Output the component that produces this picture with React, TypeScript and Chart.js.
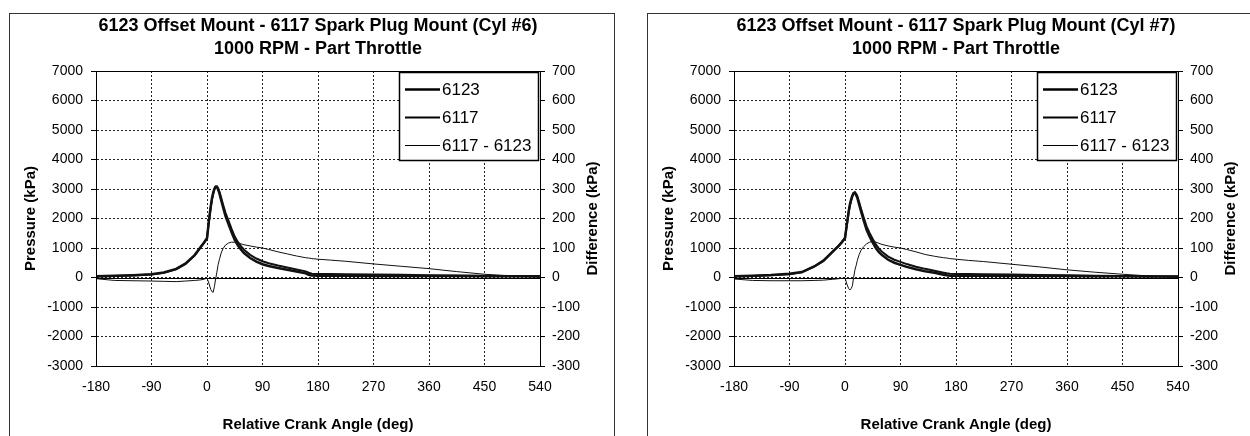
import React, { useEffect, useRef } from "react";
import { Chart, registerables } from "chart.js";

Chart.register(...registerables);

// ---- data ----
const ANGLE_DEG = [-180, -150, -120, -90, -70, -50, -35, -20, -10, -5, 0, 3, 6, 8, 10, 12, 14, 16, 18, 20, 23, 26, 30, 35, 40, 45, 50, 55, 60, 70, 80, 90, 100, 115, 130, 145, 160, 165, 170, 180, 200, 225, 270, 315, 360, 405, 450, 495, 540];

const CYL6_6123 = [40, 60, 80, 110, 170, 290, 470, 760, 1040, 1180, 1330, 1900, 2400, 2680, 2870, 3010, 3080, 3070, 2980, 2860, 2620, 2380, 2080, 1800, 1520, 1270, 1090, 950, 830, 660, 540, 450, 390, 320, 260, 200, 140, 95, 65, 60, 60, 58, 55, 52, 50, 48, 45, 42, 40];
const CYL6_6117 = [36, 50, 69, 98, 157, 276, 458, 750, 1032, 1174, 1328, 1881, 2360, 2632, 2820, 2979, 3075, 3088, 3023, 2920, 2703, 2478, 2190, 1917, 1640, 1389, 1207, 1064, 941, 767, 643, 550, 485, 407, 340, 273, 207, 161, 129, 122, 119, 113, 101, 90, 80, 68, 56, 47, 41];
const CYL6_DIFF = [-4, -10, -11, -12, -13, -14, -12, -10, -8, -6, -2, -19, -40, -48, -50, -31, -5, 18, 43, 60, 83, 98, 110, 117, 120, 119, 117, 114, 111, 107, 103, 100, 95, 87, 80, 73, 67, 66, 64, 62, 59, 55, 46, 38, 30, 20, 11, 5, 1];

const CYL7_6123 = [40, 60, 85, 125, 185, 375, 570, 880, 1080, 1200, 1340, 1800, 2250, 2480, 2650, 2780, 2860, 2870, 2800, 2700, 2470, 2240, 1950, 1620, 1380, 1180, 1000, 860, 760, 600, 500, 430, 360, 280, 215, 160, 95, 75, 62, 57, 57, 56, 55, 50, 48, 45, 40, 35, 30];
const CYL7_6117 = [35, 50, 74, 114, 174, 365, 561, 874, 1076, 1197, 1339, 1778, 2212, 2438, 2612, 2752, 2860, 2895, 2840, 2758, 2548, 2332, 2054, 1734, 1500, 1302, 1120, 976, 872, 707, 603, 530, 455, 367, 293, 232, 162, 141, 126, 119, 115, 110, 100, 86, 74, 63, 51, 40, 30];
const CYL7_DIFF = [-5, -10, -11, -11, -11, -10, -9, -6, -4, -3, -1, -22, -38, -42, -38, -28, 0, 25, 40, 58, 78, 92, 104, 114, 120, 122, 120, 116, 112, 107, 103, 100, 95, 87, 78, 72, 67, 66, 64, 62, 58, 54, 45, 36, 26, 18, 11, 5, 0];

const X_TICKS = [-180, -90, 0, 90, 180, 270, 360, 450, 540];
const P_TICKS = [-3000, -2000, -1000, 0, 1000, 2000, 3000, 4000, 5000, 6000, 7000];
const D_TICKS = [-300, -200, -100, 0, 100, 200, 300, 400, 500, 600, 700];

const SERIES_LABELS = ["6123", "6117", "6117 - 6123"];
const TITLE_CYL6 = ["6123 Offset Mount - 6117 Spark Plug Mount (Cyl #6)", "1000 RPM - Part Throttle"];
const TITLE_CYL7 = ["6123 Offset Mount - 6117 Spark Plug Mount (Cyl #7)", "1000 RPM - Part Throttle"];
const X_TITLE = "Relative Crank Angle (deg)";
const Y_TITLE = "Pressure (kPa)";
const Y1_TITLE = "Difference (kPa)";

const FONT = "'Liberation Sans', Arial, Helvetica, sans-serif";
const CANVAS_W = 604;
const CANVAS_H = 422;

function toXY(xs: number[], ys: number[]) {
  return xs.map((x, i) => ({ x, y: ys[i] }));
}

const decorPlugin = {
  id: "decor",
  beforeDatasetsDraw(chart: any) {
    const { ctx, chartArea: a, scales } = chart;
    const y0 = Math.round(scales.y.getPixelForValue(0)) + 0.5;
    ctx.save();
    ctx.strokeStyle = "#000";
    ctx.lineWidth = 1;
    ctx.setLineDash([]);
    ctx.beginPath();
    ctx.moveTo(a.left, y0);
    ctx.lineTo(a.right, y0);
    ctx.stroke();
    ctx.restore();
  },
  afterDraw(chart: any) {
    const { ctx, chartArea: a } = chart;
    ctx.save();
    // plot frame
    const l = Math.round(a.left) + 0.5;
    const t = Math.round(a.top) + 0.5;
    const r = Math.round(a.right) + 0.5;
    const b = Math.round(a.bottom) + 0.5;
    ctx.strokeStyle = "#000";
    ctx.lineWidth = 1;
    ctx.setLineDash([]);
    ctx.strokeRect(l, t, r - l, b - t);

    // legend box
    const lw = 139;
    const lh = 88;
    const lr = Math.round(a.right) - 2;
    const lx = lr - lw;
    const ly = Math.round(a.top) + 1;
    ctx.fillStyle = "#fff";
    ctx.fillRect(lx, ly, lw, lh);
    ctx.lineWidth = 1.5;
    ctx.strokeRect(lx + 0.5, ly + 0.5, lw, lh);
    ctx.font = `17px ${FONT}`;
    ctx.textAlign = "left";
    ctx.textBaseline = "middle";
    ctx.fillStyle = "#000";
    chart.data.datasets.forEach((ds: any, i: number) => {
      const cy = ly + 17 + i * 28;
      ctx.beginPath();
      ctx.lineWidth = ds.borderWidth;
      ctx.strokeStyle = "#000";
      ctx.moveTo(lx + 6, cy + 0.5);
      ctx.lineTo(lx + 41, cy + 0.5);
      ctx.stroke();
      ctx.fillText(ds.label, lx + 43, cy + 1);
    });

    // right axis title (reads bottom-to-top)
    ctx.translate(chart.width - 21, (a.top + a.bottom) / 2);
    ctx.rotate(-Math.PI / 2);
    ctx.font = `bold 15px ${FONT}`;
    ctx.textAlign = "center";
    ctx.textBaseline = "middle";
    ctx.fillText(Y1_TITLE, 0, 0);
    ctx.restore();
  },
};

function CylinderChart(props: {
  title: string[];
  p6123: number[];
  p6117: number[];
  diff: number[];
  left: number;
  top: number;
}) {
  const ref = useRef<HTMLCanvasElement>(null);
  useEffect(() => {
    const tickFont = { family: FONT, size: 14 };
    const chart = new Chart(ref.current as HTMLCanvasElement, {
      type: "line",
      data: {
        datasets: [
          {
            label: SERIES_LABELS[0],
            data: toXY(ANGLE_DEG, props.p6123),
            borderColor: "#111",
            borderWidth: 2.5,
            pointRadius: 0,
            tension: 0,
            yAxisID: "y",
          },
          {
            label: SERIES_LABELS[1],
            data: toXY(ANGLE_DEG, props.p6117),
            borderColor: "#111",
            borderWidth: 2,
            pointRadius: 0,
            tension: 0,
            yAxisID: "y",
          },
          {
            label: SERIES_LABELS[2],
            data: toXY(ANGLE_DEG, props.diff),
            borderColor: "#111",
            borderWidth: 1,
            pointRadius: 0,
            tension: 0,
            yAxisID: "y1",
          },
        ],
      } as any,
      options: {
        animation: false,
        responsive: false,
        devicePixelRatio: 1,
        layout: { padding: { left: 12, right: 0, top: 0, bottom: 0 } },
        plugins: {
          legend: { display: false },
          tooltip: { enabled: false },
          title: {
            display: true,
            text: props.title,
            color: "#000",
            font: { family: FONT, size: 18, weight: "bold", lineHeight: 1.3 },
            padding: { top: 0.3, bottom: 9.9 },
          },
        },
        scales: {
          x: {
            type: "linear",
            min: -180,
            max: 540,
            afterBuildTicks: (s: any) => {
              s.ticks = X_TICKS.map((v) => ({ value: v }));
            },
            afterFit: (s: any) => {
              s.height = 70;
            },
            grid: { color: "#222", lineWidth: 1, drawTicks: false },
            border: { display: true, color: "#000", width: 1, dash: [2, 2] },
            ticks: {
              font: tickFont,
              color: "#000",
              padding: 13,
              maxRotation: 0,
              autoSkip: false,
              callback: (v: any) => String(v),
            },
            title: {
              display: true,
              text: X_TITLE,
              color: "#000",
              font: { family: FONT, size: 15, weight: "bold" },
              padding: { top: 0, bottom: 2 },
            },
          },
          y: {
            type: "linear",
            position: "left",
            min: -3000,
            max: 7000,
            afterBuildTicks: (s: any) => {
              s.ticks = P_TICKS.map((v) => ({ value: v }));
            },
            afterFit: (s: any) => {
              s.width = 74;
            },
            grid: { color: "#222", tickColor: "#000", tickLength: 5, lineWidth: 1, tickBorderDash: [] },
            border: { display: true, color: "#000", width: 1, dash: [2, 2] },
            ticks: { font: tickFont, color: "#000", padding: 8, callback: (v: any) => String(v) },
            title: {
              display: true,
              text: Y_TITLE,
              color: "#000",
              font: { family: FONT, size: 15, weight: "bold" },
              padding: { top: 0, bottom: 0 },
            },
          },
          y1: {
            type: "linear",
            position: "right",
            min: -300,
            max: 700,
            afterBuildTicks: (s: any) => {
              s.ticks = D_TICKS.map((v) => ({ value: v }));
            },
            afterFit: (s: any) => {
              s.width = 74;
            },
            grid: { drawOnChartArea: false, color: "#000", tickLength: 5, tickBorderDash: [] },
            border: { display: true, color: "#000", width: 1 },
            ticks: { font: tickFont, color: "#000", padding: 7, callback: (v: any) => String(v) },
          },
        },
      } as any,
      plugins: [decorPlugin],
    });
    return () => chart.destroy();
  }, []);

  return (
    <>
      <div
        style={{
          position: "absolute",
          left: props.left - 1,
          top: props.top - 1,
          width: CANVAS_W + 2,
          height: CANVAS_H + 20,
          boxSizing: "border-box",
          borderLeft: "1px solid #333",
          borderTop: "1px solid #333",
          borderRight: "1px solid #333",
        }}
      />
      <canvas
        ref={ref}
        width={CANVAS_W}
        height={CANVAS_H}
        style={{ position: "absolute", left: props.left, top: props.top, width: CANVAS_W, height: CANVAS_H }}
      />
    </>
  );
}

export default function App() {
  return (
    <div
      style={{
        position: "fixed",
        left: 0,
        top: 0,
        width: 1250,
        height: 436,
        overflow: "hidden",
        background: "#fff",
      }}
    >
      <CylinderChart title={TITLE_CYL6} p6123={CYL6_6123} p6117={CYL6_6117} diff={CYL6_DIFF} left={10} top={14} />
      <CylinderChart title={TITLE_CYL7} p6123={CYL7_6123} p6117={CYL7_6117} diff={CYL7_DIFF} left={648} top={14} />
    </div>
  );
}
